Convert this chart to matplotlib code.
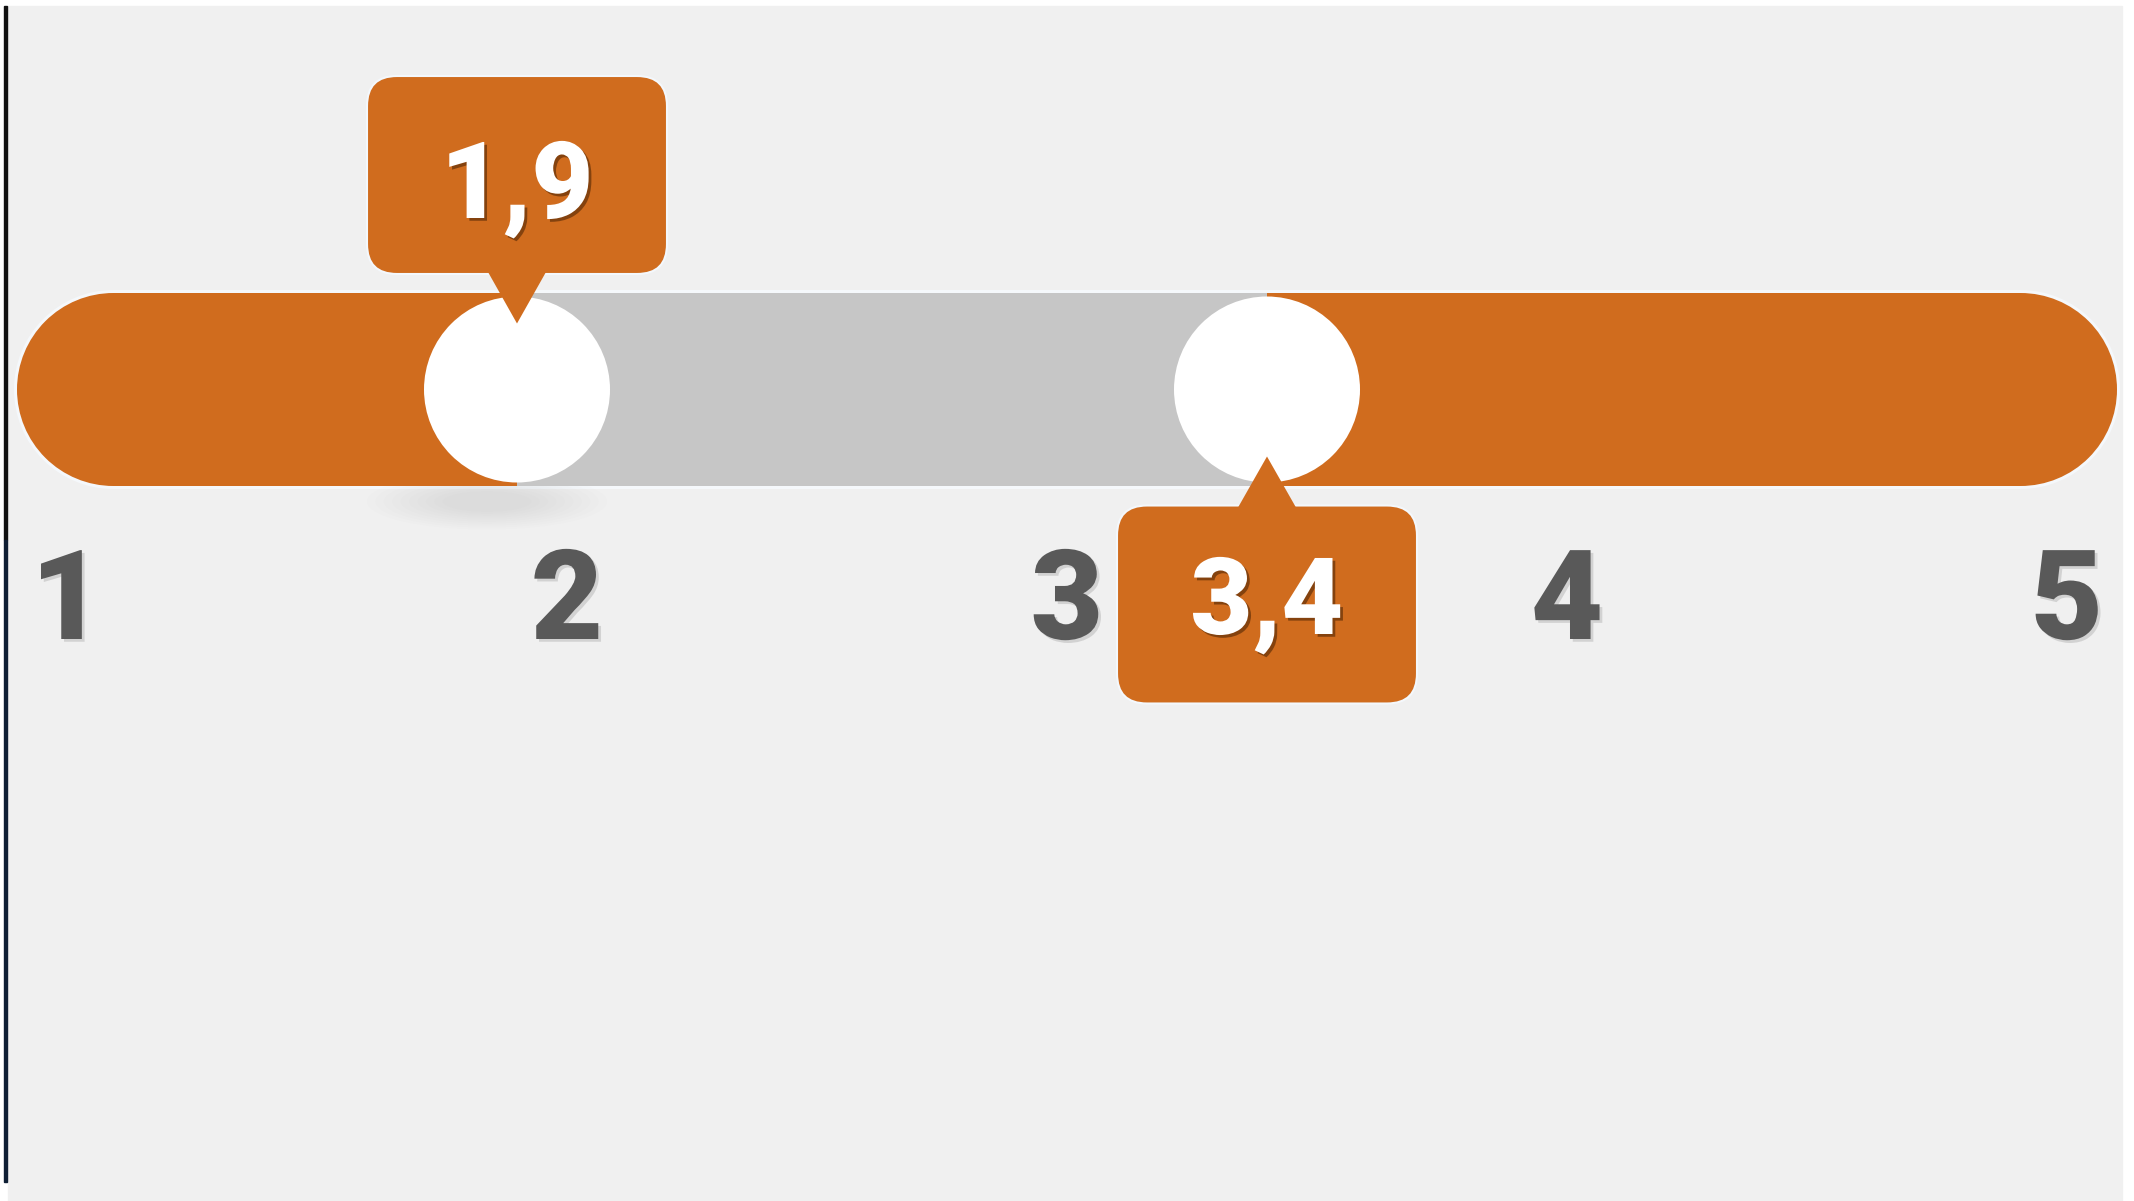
import matplotlib
matplotlib.use("Agg")
import matplotlib.pyplot as plt
from matplotlib.patches import FancyBboxPatch, Rectangle, Circle, Polygon, Ellipse
import matplotlib.patheffects as pe

# ---------------- data ----------------
scale_ticks = [1, 2, 3, 4, 5]
tick_labels = ["1", "2", "3", "4", "5"]
range_values = [1.9, 3.4]          # low, high
range_labels = ["1,9", "3,4"]

# ---------------- style ----------------
ORANGE = "#D06C1E"
GRAY = "#C6C6C6"
BG = "#F0F0F0"
TICK_COLOR = "#595959"
FONT = ["Roboto", "Liberation Sans", "DejaVu Sans"]

W, H = 2134, 1201
DPI = 100
U = 500.0                 # pixels per scale unit
X0 = scale_ticks[0] - 67 / U

fig = plt.figure(figsize=(W / DPI, H / DPI), dpi=DPI, facecolor="white")

# background panel + left dark edge
fig.patches.append(Rectangle((8 / W, 0), (2122 - 8) / W, (H - 6) / H,
                             transform=fig.transFigure, color=BG, zorder=-2))
fig.patches.append(Rectangle((4 / W, (H - 540) / H), 3 / W, (540 - 6) / H,
                             transform=fig.transFigure, color="#111111", zorder=-1))
fig.patches.append(Rectangle((4 / W, (H - 1182) / H), 3 / W, (1182 - 540) / H,
                             transform=fig.transFigure, color="#0E1E34", zorder=-1))

ax = fig.add_axes([0, 0, 1, 1])
ax.set_zorder(5)
ax.set_xlim(X0, X0 + W / U)
ax.set_ylim(H / U, 0)      # y measured downward, same unit as x
ax.axis("off")
ax.patch.set_alpha(0)


def py(p):
    return p / U


BAR_CY = 389.5
BAR_H = 193
PAD = 0.1
THUMB_R = 93
BOX_W, BOX_H, BOX_R = 300, 198, 30

lo, hi = range_values
smin, smax = scale_ticks[0], scale_ticks[-1]
bx0 = smin - PAD + py(BAR_H / 2)
bx1 = smax + PAD - py(BAR_H / 2)
rb = py(BAR_H / 2)

# subtle glow behind bar
ax.add_patch(Rectangle((bx0, py(BAR_CY) - rb - py(3)), bx1 - bx0, 2 * rb + py(6),
                       facecolor="#F5F8FB", edgecolor="none", zorder=1))
for cx in (bx0, bx1):
    ax.add_patch(Circle((cx, py(BAR_CY)), rb + py(3), facecolor="#F5F8FB",
                        edgecolor="none", zorder=1))

# full orange bar with semicircular ends
ax.add_patch(Rectangle((bx0, py(BAR_CY) - rb), bx1 - bx0, 2 * rb,
                       facecolor=ORANGE, edgecolor="none", zorder=2))
for cx in (bx0, bx1):
    ax.add_patch(Circle((cx, py(BAR_CY)), rb, facecolor=ORANGE,
                        edgecolor="none", zorder=2))

# gray selected range
ax.add_patch(Rectangle((lo, py(BAR_CY) - rb), hi - lo, 2 * rb,
                       facecolor=GRAY, edgecolor="none", zorder=3))

# faint shadow below the low thumb
for i in range(10):
    k = 1.0 - i * 0.07
    ax.add_patch(Ellipse((lo - py(30), py(BAR_CY + 112)), py(240 * k), py(56 * k),
                         facecolor="#A8A8A8", edgecolor="none", alpha=0.025, zorder=1.5))

# thumbs
for v in range_values:
    ax.add_patch(Circle((v, py(BAR_CY)), py(THUMB_R), facecolor="white",
                        edgecolor="none", zorder=4))

value_fx = [pe.withSimplePatchShadow(offset=(2, -2), shadow_rgbFace="#3A1A00", alpha=0.5)]


def rounded_box(xc, top):
    return FancyBboxPatch((xc - py(BOX_W / 2) + py(BOX_R), py(top) + py(BOX_R)),
                          py(BOX_W - 2 * BOX_R), py(BOX_H - 2 * BOX_R),
                          boxstyle=f"round,pad={py(BOX_R)},rounding_size={py(BOX_R)}",
                          facecolor=ORANGE, edgecolor="#F4F8FC", linewidth=1.5, zorder=5)


# low value callout (above)
top1 = BAR_CY - 313.5
ax.add_patch(rounded_box(lo, top1))
ax.add_patch(Polygon([(lo - py(29), py(top1 + BOX_H - 2)),
                      (lo + py(29), py(top1 + BOX_H - 2)),
                      (lo, py(BAR_CY - 66))],
                     closed=True, facecolor=ORANGE, edgecolor="none", zorder=5))
ax.text(lo, py(218), range_labels[0], ha="center", va="baseline", color="white",
        fontsize=77, fontweight=900, family=FONT, zorder=6, path_effects=value_fx)

# high value callout (below)
top2 = BAR_CY + 116
ax.add_patch(rounded_box(hi, top2))
ax.add_patch(Polygon([(hi - py(29), py(top2 + 2)),
                      (hi + py(29), py(top2 + 2)),
                      (hi, py(BAR_CY + 67))],
                     closed=True, facecolor=ORANGE, edgecolor="none", zorder=5))
ax.text(hi, py(634), range_labels[1], ha="center", va="baseline", color="white",
        fontsize=77, fontweight=900, family=FONT, zorder=6, path_effects=value_fx)

# scale labels
tick_fx = [pe.withSimplePatchShadow(offset=(2, -2), shadow_rgbFace="#000000", alpha=0.12)]
for v, lab in zip(scale_ticks, tick_labels):
    ax.text(v, py(639), lab, ha="center", va="baseline", color=TICK_COLOR,
            fontsize=90, fontweight=900, family=FONT, zorder=6, path_effects=tick_fx)

fig.savefig("out.png", dpi=DPI, facecolor=fig.get_facecolor())
